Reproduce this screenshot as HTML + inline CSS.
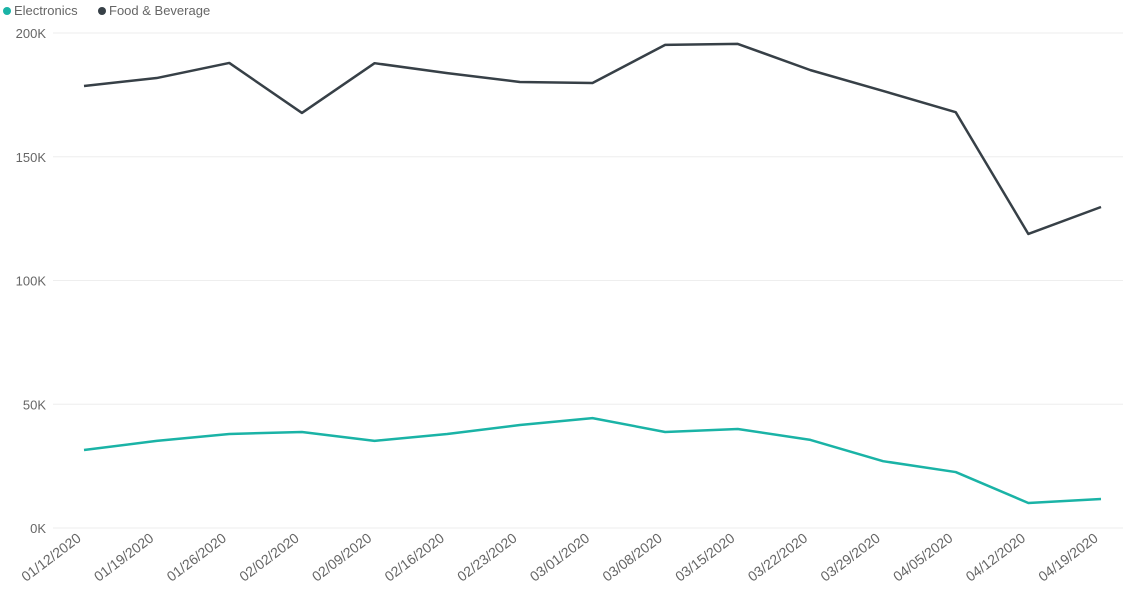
<!DOCTYPE html>
<html><head><meta charset="utf-8"><style>
body{margin:0;background:#fff;font-family:"Liberation Sans",sans-serif;}
svg text{font-family:"Liberation Sans",sans-serif;fill:#666;font-size:13px;}
</style></head><body>
<svg id="c" width="1123" height="602">
<g id="legend">
<g><circle cx="7" cy="11" r="4" fill="#1ab3a6"/><text x="14" y="15">Electronics</text></g>
<g><circle cx="102" cy="11" r="4" fill="#374047"/><text x="109" y="15">Food &amp; Beverage</text></g>
</g>
</svg>
<script>
const categories=["01/12/2020","01/19/2020","01/26/2020","02/02/2020","02/09/2020","02/16/2020","02/23/2020","03/01/2020","03/08/2020","03/15/2020","03/22/2020","03/29/2020","04/05/2020","04/12/2020","04/19/2020"];
const foodValues=[178.6,181.8,187.9,167.7,187.8,183.8,180.2,179.8,195.2,195.6,185,176.6,168,118.8,129.7];
const electronicsValues=[31.5,35.2,38,38.8,35.2,38,41.6,44.4,38.8,40,35.6,27,22.6,10.1,11.7];
const yTicks=[0,50,100,150,200];
const yTickLabels=["0K","50K","100K","150K","200K"];
const svg=document.getElementById('c');const NS="http://www.w3.org/2000/svg";
const x0=84,x1=1101,yBase=528,yTop=33,yMax=200;
const X=i=>x0+(x1-x0)*i/(categories.length-1);
const Y=v=>yBase-(yBase-yTop)*v/yMax;
function mk(t,a){const e=document.createElementNS(NS,t);for(const k in a)e.setAttribute(k,a[k]);svg.appendChild(e);return e;}
yTicks.forEach((v,i)=>{
 const l=mk('line',{x1:53,x2:1123,y1:Y(v),y2:Y(v),stroke:'#eee','stroke-width':1});
 
 
 const t=mk('text',{x:46,y:Y(v)+5,'text-anchor':'end'});t.textContent=yTickLabels[i];
 
 
});
categories.forEach((c,i)=>{
 const t=mk('text',{x:X(i)-2,y:540,'text-anchor':'end','font-size':'14px',style:'font-size:14px',transform:`rotate(-37 ${X(i)-2} 540)`});t.textContent=c;
 
 
});
function series(vals,col,name){
 const p=mk('polyline',{points:vals.map((v,i)=>X(i)+','+Y(v)).join(' '),fill:'none',stroke:col,'stroke-width':2.5,'stroke-linejoin':'round'});
 
 
}
series(foodValues,'#374047','food-beverage-line');
series(electronicsValues,'#1ab3a6','electronics-line');
</script>
</body></html>
